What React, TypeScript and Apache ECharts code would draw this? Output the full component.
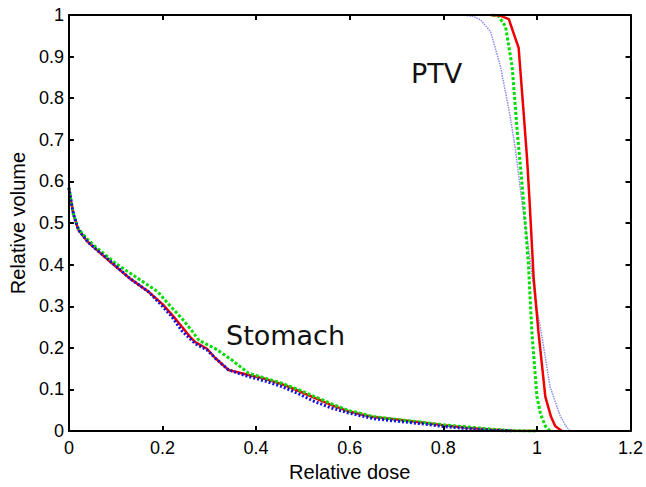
import React, { useEffect, useRef } from "react";
import * as echarts from "echarts";

// Stomach DVH curves [relative dose, relative volume]
const stomachRed: [number, number][] = [
  [0, 0.585], [0.005, 0.55], [0.01, 0.52], [0.02, 0.484], [0.04, 0.455], [0.06, 0.435],
  [0.09, 0.405], [0.13, 0.367], [0.17, 0.335], [0.2, 0.305], [0.22, 0.28], [0.242, 0.25],
  [0.26, 0.225], [0.27, 0.214], [0.295, 0.198], [0.313, 0.175], [0.341, 0.147], [0.384, 0.135],
  [0.42, 0.125], [0.455, 0.113], [0.49, 0.097], [0.525, 0.08], [0.56, 0.063], [0.596, 0.048],
  [0.625, 0.04], [0.65, 0.034], [0.7, 0.028], [0.75, 0.021], [0.8, 0.014], [0.85, 0.008],
  [0.9, 0.004], [0.95, 0.001], [1.0, 0],
];
const stomachGreen: [number, number][] = [
  [0, 0.585], [0.005, 0.55], [0.01, 0.52], [0.02, 0.487], [0.04, 0.46], [0.06, 0.44],
  [0.1, 0.403], [0.15, 0.365], [0.19, 0.335], [0.217, 0.3], [0.242, 0.27], [0.26, 0.245],
  [0.278, 0.218], [0.313, 0.198], [0.348, 0.171], [0.384, 0.139], [0.42, 0.127], [0.455, 0.115],
  [0.49, 0.1], [0.525, 0.083], [0.56, 0.066], [0.596, 0.05], [0.65, 0.035], [0.7, 0.028],
  [0.75, 0.022], [0.8, 0.015], [0.85, 0.01], [0.9, 0.005], [0.95, 0.001], [1.0, 0],
];
const stomachBlue: [number, number][] = [
  [0, 0.585], [0.005, 0.55], [0.01, 0.52], [0.02, 0.484], [0.04, 0.455], [0.06, 0.435],
  [0.09, 0.407], [0.13, 0.367], [0.17, 0.335], [0.2, 0.3], [0.22, 0.275], [0.242, 0.24],
  [0.27, 0.21], [0.295, 0.195], [0.313, 0.175], [0.341, 0.147], [0.384, 0.131], [0.42, 0.12],
  [0.455, 0.107], [0.49, 0.09], [0.525, 0.071], [0.56, 0.056], [0.596, 0.044], [0.65, 0.03],
  [0.7, 0.024], [0.75, 0.018], [0.8, 0.011], [0.85, 0.006], [0.9, 0.002], [0.95, 0],
];

// PTV DVH curves (volume is 1 below the first listed dose)
const ptvRed: [number, number][] = [
  [0.9, 1], [0.92, 0.999], [0.94, 0.99], [0.961, 0.921], [0.972, 0.76], [0.979, 0.655], [0.984, 0.56],
  [0.993, 0.369], [1.003, 0.242], [1.018, 0.083], [1.03, 0.035], [1.039, 0.012], [1.053, 0],
];
const ptvGreen: [number, number][] = [
  [0.905, 1], [0.918, 0.998], [0.933, 0.972], [0.947, 0.877], [0.958, 0.72], [0.971, 0.56], [0.982, 0.4],
  [0.989, 0.242], [1.0, 0.083], [1.008, 0.04], [1.018, 0.012], [1.028, 0],
];
const ptvBlue: [number, number][] = [
  [0.845, 1], [0.865, 0.996], [0.88, 0.988], [0.901, 0.96], [0.922, 0.877], [0.94, 0.774], [0.954, 0.679],
  [0.967, 0.56], [0.982, 0.44], [0.996, 0.321], [1.011, 0.226], [1.028, 0.107], [1.05, 0.036],
  [1.062, 0.012], [1.071, 0],
];

const xTitle = "Relative dose";
const yTitle = "Relative volume";
const labelPTV = "PTV";
const labelStomach = "Stomach";

const FONT = "'Liberation Sans', Arial, sans-serif";

export default function App() {
  const ref = useRef<HTMLDivElement>(null);
  useEffect(() => {
    if (!ref.current) return;
    const chart = echarts.init(ref.current, undefined, { renderer: "svg" });
    const axisCommon = {
      type: "value" as const,
      z: 5,
      axisLine: { show: true, onZero: false, lineStyle: { color: "#000", width: 2 } },
      axisTick: { show: true, inside: true, length: 5, lineStyle: { color: "#000", width: 2 } },
      splitLine: { show: false },
    };
    const line = (data: [number, number][], color: string, width: number, type: any) => ({
      type: "line" as const,
      data,
      showSymbol: false,
      symbol: "none",
      smooth: false,
      clip: true,
      lineStyle: { color, width, type },
    });
    chart.setOption({
      animation: false,
      backgroundColor: "#fff",
      grid: { left: 66, right: 15, top: 15, bottom: 52 },
      xAxis: [
        {
          ...axisCommon,
          min: 0, max: 1.2, interval: 0.2, position: "bottom",
          axisLabel: { color: "#000", fontSize: 18, fontFamily: FONT, margin: 8 },
          name: xTitle, nameLocation: "middle", nameGap: 28,
          nameTextStyle: { color: "#000", fontSize: 20, fontFamily: FONT },
        },
        {
          ...axisCommon,
          min: 0, max: 1.2, interval: 0.2, position: "top",
          axisLabel: { show: false },
        },
      ],
      yAxis: [
        {
          ...axisCommon,
          min: 0, max: 1, interval: 0.1, position: "left",
          axisLabel: { color: "#000", fontSize: 18, fontFamily: FONT, margin: 5 },
          name: yTitle, nameLocation: "middle", nameGap: 37, nameRotate: 90,
          nameTextStyle: { color: "#000", fontSize: 20, fontFamily: FONT },
        },
        {
          ...axisCommon,
          min: 0, max: 1, interval: 0.1, position: "right",
          axisLabel: { show: false },
        },
      ],
      series: [
        line(stomachRed, "#ee0000", 2.5, "solid"),
        line(stomachGreen, "#00dd00", 3, [3, 2]),
        line(stomachBlue, "#1010e0", 3, [2, 2]),
        line(ptvBlue, "#8c8cec", 1.5, [1.5, 1]),
        line(ptvGreen, "#00dd00", 3, [3, 2]),
        line(ptvRed, "#ee0000", 2.5, "solid"),
      ],
      graphic: [
        {
          type: "text", left: 411, top: 60,
          style: { text: labelPTV, fontSize: 27, fontFamily: "'DejaVu Sans', Verdana, sans-serif", fill: "#111" },
        },
        {
          type: "text", left: 226, top: 322,
          style: { text: labelStomach, fontSize: 27, fontFamily: "'DejaVu Sans', Verdana, sans-serif", fill: "#111" },
        },
      ],
    });
    return () => chart.dispose();
  }, []);
  return (
    <div
      ref={ref}
      style={{ position: "absolute", left: 0, top: 0, width: 646, height: 487, background: "#fff" }}
    />
  );
}
